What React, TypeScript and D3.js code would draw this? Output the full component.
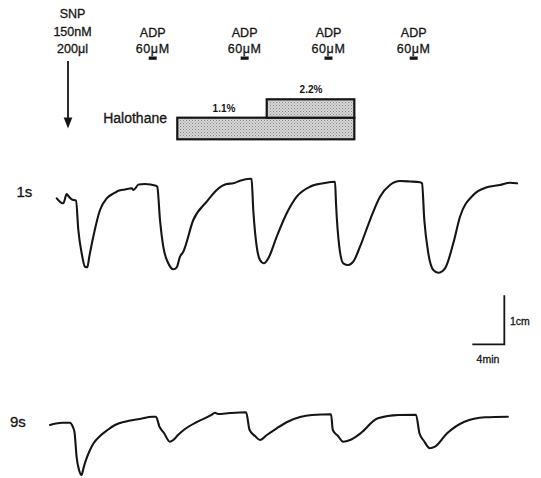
import React from "react";
import * as d3 from "d3";

// ---- Data (time in min, signal in cm of chart deflection) ----
const trace1sTime = [
  0.09, 0.59, 0.91, 1.34, 1.54, 1.96, 2.5, 2.79, 3.21, 3.63, 3.91, 4.16, 4.66, 5.5, 6.34, 7.38, 7.79, 8.63, 9.46, 9.68, 10.33, 11.13, 12.5, 12.66,
  13.0, 13.41, 14.04, 14.66, 15.09, 15.5, 15.91, 17.16, 18.84, 20.09, 21.34, 22.16, 23.0, 24.25, 24.44,
  24.66, 25.09, 25.5, 26.0, 26.54, 27.59, 28.84, 30.09, 31.75, 33.41, 34.88,
  35.0, 35.41, 35.91, 36.54, 37.16, 38.0, 39.25, 40.5, 41.75, 43.0, 44.25, 45.5, 45.75,
  46.04, 46.54, 47.16, 47.79, 48.63, 49.66, 50.5, 52.16, 53.84, 55.5, 56.75, 57.63,
];
const trace1sSignal = [
  1.667, 1.586, 1.565, 1.755, 1.714, 1.647, 1.618, 1.02, 0.545, 0.271, 0.259, 0.476, 0.884, 1.429, 1.667, 1.782, 1.822, 1.847, 1.871, 1.837, 1.949, 1.959, 1.924, 1.904,
  1.224, 0.68, 0.341, 0.218, 0.259, 0.476, 0.578, 1.224, 1.598, 1.837, 1.959, 1.973, 2.027, 2.067, 2.061,
  1.429, 0.68, 0.408, 0.341, 0.443, 0.884, 1.361, 1.7, 1.904, 1.973, 2.006,
  1.565, 0.68, 0.341, 0.306, 0.373, 0.68, 1.224, 1.7, 1.939, 2.02, 2.01, 1.994, 1.973,
  1.224, 0.545, 0.204, 0.149, 0.239, 0.749, 1.292, 1.735, 1.892, 1.939, 1.986, 1.973,
];

const trace9sTime = [
  -0.75, 0, 0.8, 1.75, 2.09, 2.31, 2.59, 2.88, 3.19, 3.38, 3.61, 4.25, 4.7, 5.5, 6.44, 7.38, 8.6, 10.5, 12.06, 12.5,
  12.93, 13.5, 14.23, 14.66, 15.25, 15.96, 17.7, 19.43, 19.86, 20.25, 21.75, 23.76,
  24.2, 24.88, 25.5, 26.36, 27.63, 28.96, 30.5, 32.0, 34.38,
  34.6, 35.25, 35.9, 36.76, 38.06, 40.23, 42.83, 45.0,
  45.43, 46.0, 46.73, 47.38, 48.89, 51.06, 53.66, 56.48,
];
const trace9sSignal = [
  1.122, 1.153, 1.169, 1.169, 1.088, 0.98, 0.449, 0.204, 0.102, 0.204, 0.341, 0.612, 0.749, 0.898, 1.02, 1.122, 1.19, 1.245, 1.292, 1.292,
  1.088, 0.959, 0.782, 0.816, 0.918, 1.02, 1.19, 1.327, 1.373, 1.347, 1.367, 1.382,
  1.02, 0.898, 0.816, 0.918, 1.061, 1.19, 1.286, 1.327, 1.341,
  1.02, 0.898, 0.782, 0.816, 0.953, 1.259, 1.327, 1.333,
  0.953, 0.796, 0.647, 0.68, 0.953, 1.19, 1.28, 1.292,
];

const snpTime = 1.5;
const snpLabels = ["SNP", "150nM", "200\u03bcl"];
const adpTimes = [12.09, 23.58, 34.06, 44.71];
const adpLabels = ["ADP", "60\u03bcM"];
const halothaneLabels = ["1.1%", "2.2%"];
const halothaneStart = [15.16, 26.34];
const halothaneEnd = [37.29, 37.29];
const traceLabels = ["1s", "9s"];
const scaleBarTime = 4; // min
const scaleBarSignal = 1; // cm
const scaleBarEnd = 56.04;

const W = 541;
const H = 478;
const FONT = "'Liberation Sans', Arial, sans-serif";
const INK = "#151515";

export default function App() {
  const x = d3.scaleLinear().domain([0, 60]).range([56, 536]);
  const y1 = d3.scaleLinear().domain([0, 2]).range([280, 182]);
  const y9 = d3.scaleLinear().domain([0, 2]).range([480, 382]);

  const line1 = d3
    .line<number>()
    .x((_, i) => x(trace1sTime[i]))
    .y((d) => y1(d))
    .curve(d3.curveMonotoneX);
  const line9 = d3
    .line<number>()
    .x((_, i) => x(trace9sTime[i]))
    .y((d) => y9(d))
    .curve(d3.curveMonotoneX);

  const snpX = x(snpTime);
  const sbX1 = x(scaleBarEnd);
  const sbX0 = x(scaleBarEnd - scaleBarTime);
  const sbYBottom = 344.3;
  const sbLen = y1(0) - y1(scaleBarSignal);

  const boxTop = [117.7, 99.3];
  const boxBottom = [139.3, 117.7];
  const txt = { fill: INK, stroke: INK, strokeWidth: 0.3 };

  return (
    <svg
      width={W}
      height={H}
      viewBox={`0 0 ${W} ${H}`}
      style={{ position: "absolute", left: 0, top: 0, background: "#fff" }}
      fontFamily={FONT}
    >
      <defs>
        <pattern id="stipple" width="3" height="3" patternUnits="userSpaceOnUse">
          <rect width="3" height="3" fill="#d6d6d6" />
          <rect x="0" y="0" width="1" height="1" fill="#8a8a8a" />
          <rect x="1.5" y="1.5" width="1" height="1" fill="#9a9a9a" />
        </pattern>
      </defs>
      <rect width={W} height={H} fill="#fff" />

      {/* SNP label and arrow */}
      {snpLabels.map((t, i) => (
        <text key={t} x={72.5} y={18.3 + i * 17.5} fontSize={12.5} textAnchor="middle" {...txt}>
          {t}
        </text>
      ))}
      <line x1={snpX} x2={snpX} y1={61} y2={120} stroke={INK} strokeWidth={1.8} />
      <path d={`M${snpX - 4.3},117.5 L${snpX + 4.3},117.5 L${snpX},128.5 Z`} fill={INK} />

      {/* ADP additions */}
      {adpTimes.map((t, i) => (
        <g key={i}>
          <text x={x(t)} y={36.5} fontSize={12.5} textAnchor="middle" {...txt}>
            {adpLabels[0]}
          </text>
          <text x={x(t)} y={53.3} fontSize={12.5} textAnchor="middle" letterSpacing={0.6} {...txt}>
            {adpLabels[1]}
          </text>
          <rect x={x(t - 0.5)} y={56.5} width={x(t + 0.5) - x(t - 0.5)} height={3.3} fill={INK} />
        </g>
      ))}

      {/* Halothane */}
      <text x={167} y={123} fontSize={14} textAnchor="end" {...txt}>
        Halothane
      </text>
      {halothaneLabels.map((lab, i) => (
        <rect
          key={lab}
          x={x(halothaneStart[i])}
          y={boxTop[i]}
          width={x(halothaneEnd[i]) - x(halothaneStart[i])}
          height={boxBottom[i] - boxTop[i]}
          fill="url(#stipple)"
          stroke={INK}
          strokeWidth={2.2}
        />
      ))}
      <text x={224} y={111.5} fontSize={10} fontWeight="bold" textAnchor="middle" fill={INK}>
        {halothaneLabels[0]}
      </text>
      <text x={311} y={93.3} fontSize={10} fontWeight="bold" textAnchor="middle" fill={INK}>
        {halothaneLabels[1]}
      </text>

      {/* Traces */}
      <text x={16.5} y={196.5} fontSize={15} {...txt}>
        {traceLabels[0]}
      </text>
      <path d={line1(trace1sSignal) || ""} fill="none" stroke={INK} strokeWidth={2.1} strokeLinejoin="round" strokeLinecap="round" />

      <text x={10} y={427} fontSize={15} {...txt}>
        {traceLabels[1]}
      </text>
      <path d={line9(trace9sSignal) || ""} fill="none" stroke={INK} strokeWidth={2.1} strokeLinejoin="round" strokeLinecap="round" />

      {/* Scale bar */}
      <path
        d={`M${sbX1},${sbYBottom - sbLen} L${sbX1},${sbYBottom} L${sbX0},${sbYBottom}`}
        fill="none"
        stroke={INK}
        strokeWidth={1.8}
      />
      <text x={510} y={325} fontSize={10.5} {...txt}>
        1cm
      </text>
      <text x={488} y={363} fontSize={10.5} textAnchor="middle" {...txt}>
        4min
      </text>
    </svg>
  );
}
